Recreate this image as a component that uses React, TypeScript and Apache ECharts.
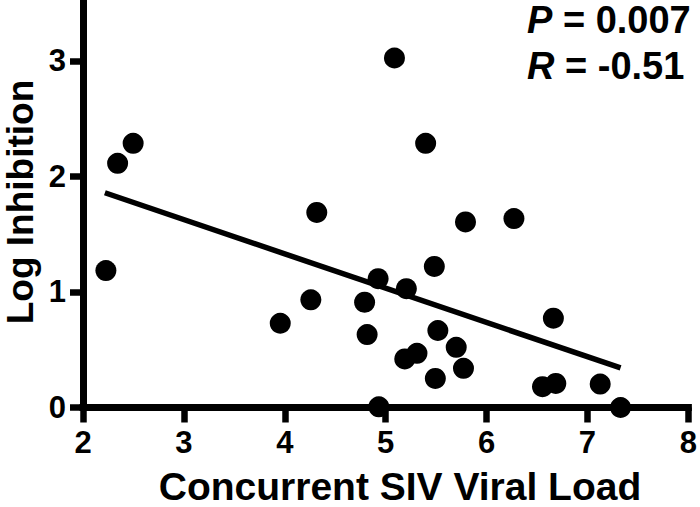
import React, { useEffect, useRef } from "react";
import * as echarts from "echarts";

const viralLoad = [
  2.227, 2.343, 2.497, 3.955, 4.258, 5.087, 5.396, 4.317, 5.791, 6.271,
  4.925, 5.482, 5.205, 4.791, 4.816, 5.517, 5.699, 5.189, 5.31, 5.771,
  5.492, 6.662, 6.554, 6.686, 7.126, 4.932, 7.328,
];
const logInhibition = [
  1.185, 2.113, 2.286, 0.729, 0.932, 3.024, 2.286, 1.688, 1.606, 1.635,
  1.115, 1.221, 1.028, 0.911, 0.631, 0.666, 0.521, 0.42, 0.469, 0.339,
  0.252, 0.773, 0.18, 0.208, 0.203, 0.006, 0.0,
];
const fitX = [2.217, 7.328];
const fitY = [1.858, 0.342];
const xTicks = [2, 3, 4, 5, 6, 7, 8];
const yTicks = [0, 1, 2, 3];
const statP = "0.007";
const statR = "-0.51";
const xTitle = "Concurrent SIV Viral Load";
const yTitle = "Log Inhibition";

const FONT = "'Liberation Sans', Arial, sans-serif";

export default function App() {
  const ref = useRef<HTMLDivElement>(null);
  useEffect(() => {
    if (!ref.current) return;
    const chart = echarts.init(ref.current, null, { renderer: "svg" });
    const points = viralLoad.map((x, i) => [x, logInhibition[i]]);
    const fit = fitX.map((x, i) => [x, fitY[i]]);
    const axisLineStyle = { color: "#000", width: 7, type: "solid", cap: "square" };
    const tickStyle = { color: "#000", width: 6.5, type: "solid" };
    chart.setOption({
      animation: false,
      backgroundColor: "#fff",
      grid: { left: 83, top: 3, width: 608, height: 404.5, containLabel: false },
      xAxis: {
        type: "value",
        min: 2,
        max: 8,
        interval: 1,
        splitLine: { show: false },
        axisLine: { show: true, onZero: false, lineStyle: axisLineStyle },
        axisTick: {
          show: true,
          inside: false,
          length: 15,
          lineStyle: tickStyle,
          customValues: xTicks,
        },
        axisLabel: {
          customValues: xTicks,
          color: "#000",
          fontFamily: FONT,
          fontWeight: "bold",
          fontSize: 31,
          margin: 19,
        },
      },
      yAxis: {
        type: "value",
        min: 0,
        max: 3.5,
        interval: 1,
        splitLine: { show: false },
        axisLine: { show: true, onZero: false, lineStyle: axisLineStyle },
        axisTick: {
          show: true,
          inside: false,
          length: 13,
          lineStyle: tickStyle,
          customValues: yTicks,
        },
        axisLabel: {
          customValues: yTicks,
          color: "#000",
          fontFamily: FONT,
          fontWeight: "bold",
          fontSize: 31,
          margin: 17,
        },
      },
      series: [
        {
          type: "line",
          data: fit,
          symbol: "none",
          lineStyle: { color: "#000", width: 5.5 },
          z: 2,
        },
        {
          type: "scatter",
          data: points,
          symbol: "circle",
          symbolSize: 21,
          itemStyle: { color: "#000", opacity: 1 },
          clip: false,
          z: 3,
        },
      ],
      graphic: [
        {
          type: "text",
          x: 527,
          y: 20,
          style: {
            text: "{i|P} = " + statP,
            font: `bold 38px ${FONT}`,
            fill: "#000",
            verticalAlign: "middle",
            align: "left",
            rich: { i: { fontStyle: "italic", fontWeight: "bold", fontSize: 38, fontFamily: FONT } },
          },
        },
        {
          type: "text",
          x: 527,
          y: 66,
          style: {
            text: "{i|R} = " + statR,
            font: `bold 38px ${FONT}`,
            fill: "#000",
            verticalAlign: "middle",
            align: "left",
            rich: { i: { fontStyle: "italic", fontWeight: "bold", fontSize: 38, fontFamily: FONT } },
          },
        },
        {
          type: "text",
          x: 400,
          y: 486,
          style: {
            text: xTitle,
            font: `bold 39px ${FONT}`,
            fill: "#000",
            align: "center",
            verticalAlign: "middle",
          },
        },
        {
          type: "text",
          x: 20,
          y: 202,
          rotation: Math.PI / 2,
          style: {
            text: yTitle,
            font: `bold 37px ${FONT}`,
            fill: "#000",
            align: "center",
            verticalAlign: "middle",
          },
        },
      ],
    });
    return () => chart.dispose();
  }, []);
  return <div ref={ref} style={{ width: 700, height: 507, position: "absolute", left: 0, top: 0 }} />;
}
